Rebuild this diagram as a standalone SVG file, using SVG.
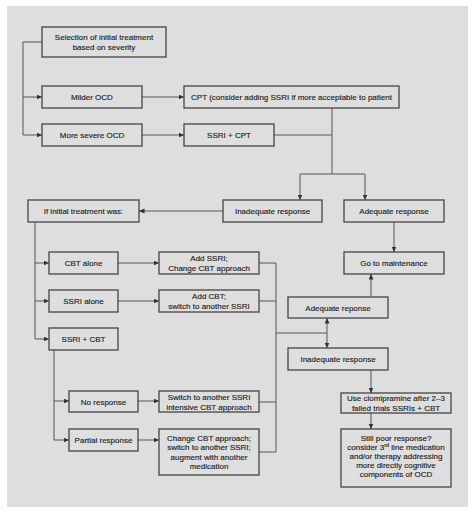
<svg xmlns="http://www.w3.org/2000/svg" width="474" height="514" viewBox="0 0 474 514">
<style>
.b{fill:#dedede;stroke:#444;stroke-width:1.3}
.t{font-family:"Liberation Sans",Arial,sans-serif;font-size:8px;fill:#1e1e1e;stroke:#1e1e1e;stroke-width:0.15;text-anchor:middle}
.c{fill:none;stroke:#555;stroke-width:1}
</style>
<defs>
<marker id="a" markerUnits="userSpaceOnUse" markerWidth="6" markerHeight="6" refX="5.5" refY="2.5" orient="auto">
<path d="M0,0 L5.5,2.5 L0,5 z" fill="#333"/>
</marker>
</defs>
<rect x="0" y="0" width="474" height="514" fill="#fff"/>
<rect x="7" y="6" width="461" height="501" fill="#dedede"/>
<g id="connectors">
<path class="c" d="M42,42 H23 V135 H42" marker-end="url(#a)"/>
<path class="c" d="M23,97 H42" marker-end="url(#a)"/>
<path class="c" d="M142,97 H184" marker-end="url(#a)"/>
<path class="c" d="M142,135 H184" marker-end="url(#a)"/>
<path class="c" d="M332,108 V174 M274,135 H332 M300,174 H365"/>
<path class="c" d="M300,174 V200" marker-end="url(#a)"/>
<path class="c" d="M365,174 V200" marker-end="url(#a)"/>
<path class="c" d="M223,211 H139" marker-end="url(#a)"/>
<path class="c" d="M394,222 V252" marker-end="url(#a)"/>
<path class="c" d="M35,222 V339 H49" marker-end="url(#a)"/>
<path class="c" d="M35,263 H49" marker-end="url(#a)"/>
<path class="c" d="M35,301 H49" marker-end="url(#a)"/>
<path class="c" d="M118,263 H159" marker-end="url(#a)"/>
<path class="c" d="M118,301 H159" marker-end="url(#a)"/>
<path class="c" d="M259,263 H276 V452 H259 M259,301 H276 M259,402 H276 M276,333 H327"/>
<path class="c" d="M327,333 V318" marker-end="url(#a)"/>
<path class="c" d="M327,333 V348" marker-end="url(#a)"/>
<path class="c" d="M371,297 V274" marker-end="url(#a)"/>
<path class="c" d="M371,370 V393" marker-end="url(#a)"/>
<path class="c" d="M371,413 V429" marker-end="url(#a)"/>
<path class="c" d="M54,350 V440 H69" marker-end="url(#a)"/>
<path class="c" d="M54,401 H69" marker-end="url(#a)"/>
<path class="c" d="M138,401 H159" marker-end="url(#a)"/>
<path class="c" d="M138,440 H159" marker-end="url(#a)"/>
</g>
<g id="selection"><rect class="b" x="42" y="27" width="124" height="30"/><text class="t" x="104" y="40">Selection of initial treatment</text><text class="t" x="104" y="50">based on severity</text></g>
<g id="milder"><rect class="b" x="42" y="86" width="100" height="22"/><text class="t" x="92" y="100">Milder OCD</text></g>
<g id="severe"><rect class="b" x="42" y="124" width="100" height="22"/><text class="t" x="92" y="138">More severe OCD</text></g>
<g id="cpt"><rect class="b" x="184" y="86" width="215" height="22"/><text class="t" x="291.5" y="100">CPT (consider adding SSRI if more acceptable to patient</text></g>
<g id="ssricpt"><rect class="b" x="184" y="124" width="90" height="22"/><text class="t" x="229" y="138">SSRI + CPT</text></g>
<g id="inadequate1"><rect class="b" x="223" y="200" width="99" height="22"/><text class="t" x="272.5" y="214">Inadequate response</text></g>
<g id="adequate1"><rect class="b" x="344" y="200" width="100" height="22"/><text class="t" x="394" y="214">Adequate response</text></g>
<g id="ifinitial"><rect class="b" x="28" y="200" width="111" height="22"/><text class="t" x="83.5" y="214">If initial treatment was:</text></g>
<g id="maintenance"><rect class="b" x="344" y="252" width="100" height="22"/><text class="t" x="394" y="266">Go to maintenance</text></g>
<g id="cbtalone"><rect class="b" x="49" y="252" width="69" height="22"/><text class="t" x="83.5" y="266">CBT alone</text></g>
<g id="addssri"><rect class="b" x="159" y="252" width="100" height="22"/><text class="t" x="209" y="261">Add SSRI;</text><text class="t" x="209" y="270.5">Change CBT approach</text></g>
<g id="ssrialone"><rect class="b" x="49" y="290" width="69" height="22"/><text class="t" x="83.5" y="304">SSRI alone</text></g>
<g id="addcbt"><rect class="b" x="159" y="290" width="100" height="22"/><text class="t" x="209" y="299">Add CBT;</text><text class="t" x="209" y="308.5">switch to another SSRI</text></g>
<g id="adequate2"><rect class="b" x="288" y="297" width="100" height="21"/><text class="t" x="338" y="310.5">Adequate reponse</text></g>
<g id="ssricbt"><rect class="b" x="49" y="328" width="69" height="22"/><text class="t" x="83.5" y="342">SSRI + CBT</text></g>
<g id="inadequate2"><rect class="b" x="288" y="348" width="100" height="22"/><text class="t" x="338" y="362">Inadequate response</text></g>
<g id="noresponse"><rect class="b" x="69" y="391" width="69" height="21"/><text class="t" x="103.5" y="404.5">No response</text></g>
<g id="switch"><rect class="b" x="159" y="391" width="100" height="21"/><text class="t" x="209" y="400">Switch to another SSRI</text><text class="t" x="209" y="409.5">intensive CBT approach</text></g>
<g id="clomipramine"><rect class="b" x="341" y="393" width="110" height="20"/><text class="t" x="396" y="401">Use clomipramine after 2–3</text><text class="t" x="396" y="410.5">failed trials SSRIs + CBT</text></g>
<g id="partial"><rect class="b" x="69" y="429" width="69" height="22"/><text class="t" x="103.5" y="443">Partial response</text></g>
<g id="changecbt"><rect class="b" x="159" y="429" width="100" height="46"/><text class="t" x="209" y="441">Change CBT approach;</text><text class="t" x="209" y="450.3">switch to another SSRI;</text><text class="t" x="209" y="459.6">augment with another</text><text class="t" x="209" y="468.9">medication</text></g>
<g id="stillpoor"><rect class="b" x="341" y="429" width="110" height="58"/><text class="t" x="396" y="440.5">Still poor response?</text><text class="t" x="396" y="449.5">consider 3<tspan font-size="5.5" dy="-2.5">rd</tspan><tspan dy="2.5"> line medication</tspan></text><text class="t" x="396" y="458.5">and/or therapy addressing</text><text class="t" x="396" y="467.5">more directly cognitive</text><text class="t" x="396" y="476.5">components of OCD</text></g>
</svg>
